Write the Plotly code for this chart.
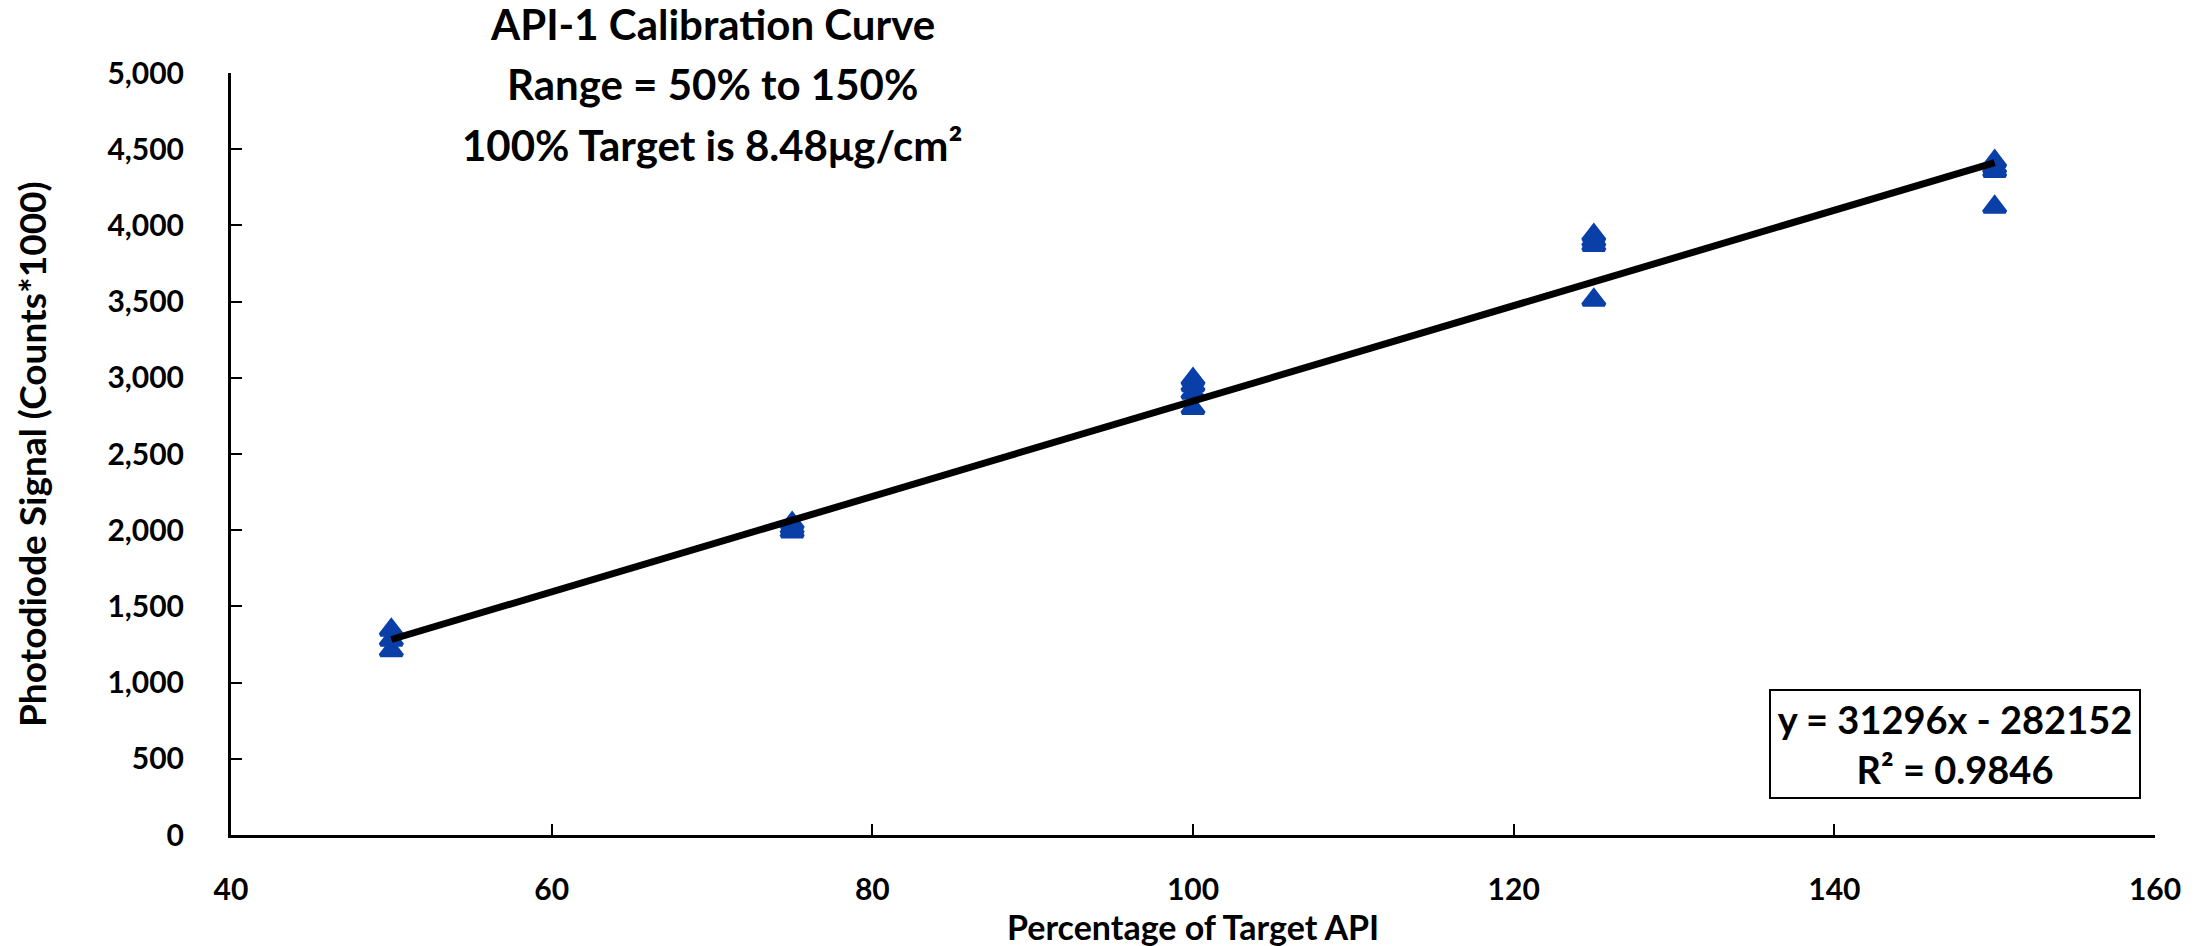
import plotly.graph_objects as go

# ---- data ----
pct_target = [50, 50, 50,
              75, 75, 75,
              100, 100, 100, 100,
              125, 125, 125, 125,
              150, 150, 150, 150]
signal_k = [1345, 1280, 1210,
            2045, 2015, 1990,
            2990, 2950, 2900, 2800,
            3935, 3900, 3870, 3510,
            4420, 4380, 4355, 4120]

trend_slope = 31296        # counts per % target
trend_intercept = -282152  # counts
trend_x = [50, 150]
r_squared = 0.9846

x_ticks = [40, 60, 80, 100, 120, 140, 160]
y_ticks = [0, 500, 1000, 1500, 2000, 2500, 3000, 3500, 4000, 4500, 5000]
y_tick_text = [f"{v:,}" for v in y_ticks]

title_lines = ["API-1 Calibration Curve",
               "Range = 50% to 150%",
               "100% Target is 8.48μg/cm²"]

trend_y = [(trend_slope * x + trend_intercept) / 1000 for x in trend_x]

FONT = "Lato, 'Open Sans', sans-serif"
BLUE = "#0a3fa8"

fig = go.Figure()
fig.add_trace(go.Scatter(
    x=pct_target, y=signal_k, mode="markers",
    marker=dict(symbol="triangle-up", size=19, color=BLUE,
                line=dict(color=BLUE, width=4)),
    showlegend=False, hoverinfo="skip"))
fig.add_trace(go.Scatter(
    x=trend_x, y=trend_y, mode="lines",
    line=dict(color="black", width=7),
    showlegend=False, hoverinfo="skip"))

L, R, T, B = 231, 45, 73, 111
W, H = 2200, 946
ph = H - T - B
pw = W - L - R

def py(pix):
    return (H - B - pix) / ph

def px(pix):
    return (pix - L) / pw

annotations = []
for line, yc in zip(title_lines, [24, 84, 145]):
    annotations.append(dict(text=line, xref="paper", yref="paper",
                            x=px(712), y=py(yc), showarrow=False,
                            xanchor="center", yanchor="middle",
                            font=dict(family=FONT, size=42, color="black", weight="bold")))
annotations.append(dict(text="Percentage of Target API", xref="paper", yref="paper",
                        x=0.5, y=py(926), showarrow=False, xanchor="center", yanchor="middle",
                        font=dict(family=FONT, size=34, color="black", weight="bold")))
annotations.append(dict(text="Photodiode Signal (Counts*1000)", xref="paper", yref="paper",
                        x=px(31), y=0.5, showarrow=False, textangle=-90,
                        xanchor="center", yanchor="middle",
                        font=dict(family=FONT, size=37, color="black", weight="bold")))
annotations.append(dict(
    text=f"y = {trend_slope}x - {abs(trend_intercept)}<br>R² = {r_squared}",
    xref="paper", yref="paper", x=px(1955), y=py(744), showarrow=False,
    xanchor="center", yanchor="middle", align="center",
    width=362, height=100, borderpad=3,
    bordercolor="black", borderwidth=2, bgcolor="white",
    font=dict(family=FONT, size=38, color="black", weight="bold")))

fig.update_layout(
    width=W, height=H,
    margin=dict(l=L, r=R, t=T, b=B),
    paper_bgcolor="white", plot_bgcolor="white",
    font=dict(family=FONT, size=30, color="black", weight="bold"),
    annotations=annotations,
    xaxis=dict(range=[40, 160], tickvals=x_ticks, showgrid=False, zeroline=False,
               showline=True, linecolor="black", linewidth=3,
               ticks="inside", ticklen=11, tickwidth=2, tickcolor="black",
               ticklabelstandoff=26,
               tickfont=dict(family=FONT, size=30, color="black", weight="bold")),
    yaxis=dict(range=[0, 5000], tickvals=y_ticks, ticktext=y_tick_text,
               showgrid=False, zeroline=False,
               showline=True, linecolor="black", linewidth=3,
               ticks="inside", ticklen=11, tickwidth=2, tickcolor="black",
               ticklabelstandoff=38,
               tickfont=dict(family=FONT, size=30, color="black", weight="bold")),
)

fig.write_html("out.html")
